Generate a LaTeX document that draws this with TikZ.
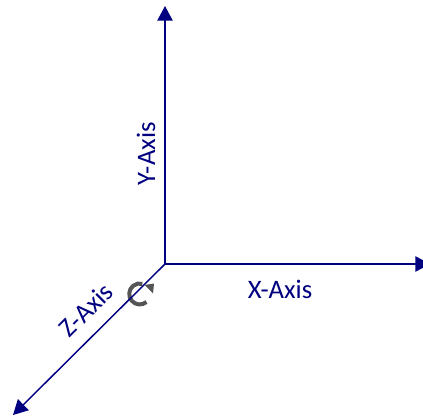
\documentclass[tikz,border=0pt]{standalone}
\usepackage{fontspec}
\setmainfont{Carlito}
\usetikzlibrary{arrows.meta}
\definecolor{axisblue}{RGB}{0,0,128}
\definecolor{rotgray}{RGB}{85,85,85}
\tikzset{
  axisline/.style={draw=axisblue,line width=1.1pt,-{Triangle[length=11pt,width=11.5pt]}},
  axislabel/.style={text=axisblue,font=\fontsize{20pt}{22pt}\selectfont,inner sep=0pt},
}
\begin{document}
\begin{tikzpicture}[x=0.75pt,y=-0.75pt]
\useasboundingbox (0,0) rectangle (423,416);
\coordinate (o) at (165,264);
\coordinate (ytip) at (165,6);
\coordinate (xtip) at (430,264);
\coordinate (ztip) at (13,415);
\draw[rotgray,line width=3pt] (146.5,302) arc[start angle=50,end angle=285,radius=10.5];
\fill[rotgray] (144.5,285) -- (154,283.5) -- (153,293.5) -- cycle;
\draw[axisline] (o) -- (ytip);
\draw[axisline] (o) -- (xtip);
\draw[axisline] (o) -- (ztip);
\node[axislabel,rotate=90] (ylab) at (146,154) {Y-Axis};
\node[axislabel] (xlab) at (280,289) {X-Axis};
\node[axislabel,rotate=45] (zlab) at (86,310) {Z-Axis};
\end{tikzpicture}
\end{document}
